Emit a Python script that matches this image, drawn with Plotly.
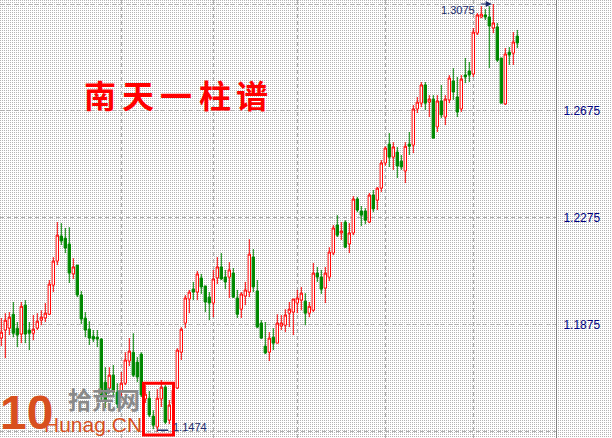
import base64
import plotly.graph_objects as go

# ---------------- data ----------------
opens = [1.1825, 1.1855, 1.1862, 1.1914, 1.1862, 1.1840, 1.1948, 1.1855, 1.1843, 1.1862,
         1.1892, 1.1900, 1.1914, 1.2023, 1.2113, 1.2207, 1.2199, 1.2177, 1.2065, 1.2098,
         1.1986, 1.1900, 1.1858, 1.1832, 1.1828, 1.1821, 1.1660, 1.1638, 1.1686, 1.1623,
         1.1623, 1.1656, 1.1739, 1.1772, 1.1735, 1.1765, 1.1597, 1.1600, 1.1533, 1.1492,
         1.1597, 1.1641, 1.1518, 1.1578, 1.1638, 1.1772, 1.1881, 1.1971, 1.2008, 1.1997,
         1.2050, 1.2020, 1.1978, 1.1956, 1.2050, 1.2091, 1.2053, 1.2053, 1.2068, 1.1975,
         1.1933, 1.1982, 1.1997, 1.2128, 1.2001, 1.1881, 1.1795, 1.1772, 1.1828, 1.1806,
         1.1870, 1.1873, 1.1918, 1.1922, 1.1956, 1.1967, 1.1963, 1.1918, 1.1929, 1.2068,
         1.2053, 1.2012, 1.2053, 1.2143, 1.2248, 1.2218, 1.2259, 1.2177, 1.2218, 1.2345,
         1.2300, 1.2300, 1.2259, 1.2360, 1.2341, 1.2386, 1.2480, 1.2551, 1.2502, 1.2521,
         1.2487, 1.2450, 1.2551, 1.2547, 1.2682, 1.2704, 1.2772, 1.2708, 1.2719, 1.2615,
         1.2712, 1.2652, 1.2716, 1.2787, 1.2727, 1.2682, 1.2809, 1.2824, 1.2813, 1.2966,
         1.3026, 1.3034, 1.3026, 1.2985, 1.2989, 1.2873, 1.2701, 1.2895, 1.2891, 1.2955]
highs = [1.1900, 1.1918, 1.1922, 1.1960, 1.1885, 1.1960, 1.1967, 1.1885, 1.1911, 1.1918,
         1.1929, 1.1956, 1.2042, 1.2128, 1.2259, 1.2255, 1.2237, 1.2240, 1.2124, 1.2098,
         1.2001, 1.1922, 1.1888, 1.1855, 1.1855, 1.1825, 1.1716, 1.1716, 1.1724, 1.1656,
         1.1698, 1.1772, 1.1825, 1.1843, 1.1754, 1.1772, 1.1649, 1.1627, 1.1555, 1.1634,
         1.1668, 1.1649, 1.1593, 1.1649, 1.1787, 1.1866, 1.1986, 1.2005, 1.2035, 1.2076,
         1.2065, 1.2020, 1.1997, 1.2080, 1.2128, 1.2143, 1.2080, 1.2109, 1.2087, 1.2005,
         1.1997, 1.2035, 1.2195, 1.2158, 1.2042, 1.1892, 1.1885, 1.1847, 1.1862, 1.1914,
         1.1911, 1.1933, 1.1960, 1.1971, 1.2005, 1.2016, 1.1993, 1.1960, 1.2106, 1.2091,
         1.2080, 1.2091, 1.2165, 1.2248, 1.2285, 1.2259, 1.2266, 1.2255, 1.2356, 1.2353,
         1.2319, 1.2311, 1.2368, 1.2379, 1.2390, 1.2491, 1.2543, 1.2592, 1.2558, 1.2540,
         1.2510, 1.2558, 1.2596, 1.2697, 1.2727, 1.2783, 1.2783, 1.2734, 1.2734, 1.2734,
         1.2772, 1.2734, 1.2809, 1.2835, 1.2802, 1.2809, 1.2873, 1.2858, 1.2985, 1.3041,
         1.3067, 1.3056, 1.3067, 1.3075, 1.3004, 1.2873, 1.2910, 1.2914, 1.2970, 1.2978]
lows = [1.1795, 1.1750, 1.1836, 1.1828, 1.1791, 1.1806, 1.1806, 1.1780, 1.1817, 1.1855,
        1.1873, 1.1885, 1.1911, 1.1997, 1.2098, 1.2173, 1.2143, 1.2031, 1.2046, 1.1978,
        1.1877, 1.1828, 1.1799, 1.1810, 1.1791, 1.1593, 1.1563, 1.1619, 1.1604, 1.1563,
        1.1600, 1.1649, 1.1720, 1.1679, 1.1660, 1.1604, 1.1582, 1.1529, 1.1484, 1.1474,
        1.1567, 1.1503, 1.1503, 1.1563, 1.1634, 1.1743, 1.1862, 1.1918, 1.1967, 1.1967,
        1.1990, 1.1922, 1.1892, 1.1903, 1.2027, 1.2042, 1.2008, 1.1975, 1.1975, 1.1900,
        1.1900, 1.1948, 1.1978, 1.1997, 1.1862, 1.1821, 1.1765, 1.1739, 1.1780, 1.1806,
        1.1855, 1.1847, 1.1866, 1.1836, 1.1918, 1.1929, 1.1873, 1.1903, 1.1922, 1.2035,
        1.1990, 1.1956, 1.2038, 1.2135, 1.2203, 1.2192, 1.2162, 1.2143, 1.2210, 1.2296,
        1.2244, 1.2251, 1.2255, 1.2296, 1.2304, 1.2371, 1.2469, 1.2465, 1.2454, 1.2424,
        1.2454, 1.2405, 1.2510, 1.2517, 1.2667, 1.2689, 1.2678, 1.2652, 1.2573, 1.2596,
        1.2648, 1.2622, 1.2704, 1.2716, 1.2652, 1.2671, 1.2779, 1.2783, 1.2802, 1.2959,
        1.3022, 1.3015, 1.2835, 1.2966, 1.2858, 1.2704, 1.2697, 1.2847, 1.2847, 1.2910]
closes = [1.1847, 1.1892, 1.1903, 1.1843, 1.1836, 1.1944, 1.1840, 1.1843, 1.1858, 1.1888,
          1.1903, 1.1918, 1.2027, 1.2113, 1.2210, 1.2188, 1.2162, 1.2068, 1.2091, 1.1986,
          1.1896, 1.1855, 1.1825, 1.1821, 1.1821, 1.1612, 1.1593, 1.1686, 1.1623, 1.1578,
          1.1656, 1.1743, 1.1776, 1.1686, 1.1679, 1.1612, 1.1615, 1.1537, 1.1499, 1.1600,
          1.1641, 1.1510, 1.1574, 1.1630, 1.1780, 1.1858, 1.1975, 1.1997, 1.1997, 1.2065,
          1.2016, 1.1960, 1.1956, 1.2046, 1.2091, 1.2046, 1.2035, 1.2080, 1.1978, 1.1914,
          1.1990, 1.2005, 1.2139, 1.2016, 1.1866, 1.1825, 1.1769, 1.1825, 1.1806, 1.1881,
          1.1881, 1.1911, 1.1933, 1.1971, 1.1975, 1.1993, 1.1918, 1.1944, 1.2068, 1.2053,
          1.2008, 1.2068, 1.2147, 1.2237, 1.2210, 1.2225, 1.2165, 1.2218, 1.2345, 1.2304,
          1.2285, 1.2266, 1.2360, 1.2308, 1.2386, 1.2480, 1.2536, 1.2502, 1.2540, 1.2469,
          1.2465, 1.2543, 1.2543, 1.2682, 1.2708, 1.2772, 1.2704, 1.2719, 1.2573, 1.2712,
          1.2660, 1.2719, 1.2798, 1.2746, 1.2671, 1.2794, 1.2802, 1.2809, 1.2970, 1.3034,
          1.3037, 1.3026, 1.2993, 1.3004, 1.2865, 1.2704, 1.2888, 1.2884, 1.2933, 1.2929]
bar_index = list(range(len(opens)))

price_ticks = [1.1474, 1.1875, 1.2275, 1.2675, 1.3075]
price_labels = ["1.1474", "1.1875", "1.2275", "1.2675", "1.3075"]
month_marks = [30, 53, 74, 96, 118]          # bars where the vertical grid lines fall
title_chars = ["南", "天", "一", "柱", "谱"]
high_label, low_label = "1.3075", "1.1474"
high_bar, low_bar = 123, 39
boxed_bars = (35.55, 43.05)
boxed_prices = (1.1462, 1.1656)

W, H = 612, 438
PLOT_W = 556
Y_RANGE = [1.1451, 1.3090]
X_RANGE = [-0.325, 138.675]

fig = go.Figure()
fig.add_trace(go.Candlestick(
    x=bar_index, open=opens, high=highs, low=lows, close=closes,
    increasing=dict(line=dict(color="#ff0000", width=1), fillcolor="#ffffff"),
    decreasing=dict(line=dict(color="#008800", width=1), fillcolor="#008800"),
    whiskerwidth=0, showlegend=False, hoverinfo="skip",
))

# dotted background texture
svg = ('<svg xmlns="http://www.w3.org/2000/svg" width="%d" height="%d" shape-rendering="crispEdges">'
       '<defs><pattern id="p" width="2" height="2" patternUnits="userSpaceOnUse">'
       '<rect x="0" y="0" width="1" height="1" fill="#b4b4b4"/></pattern></defs>'
       '<rect width="%d" height="%d" fill="url(#p)"/></svg>') % (W, H, W, H)
src = "data:image/svg+xml;base64," + base64.b64encode(svg.encode()).decode()

def px(xp):
    return xp / PLOT_W

def py(yp):
    return 1 - yp / H

annotations = []
centers = [100, 138, 176, 215, 252]
for ch, cx in zip(title_chars, centers):
    annotations.append(dict(xref="paper", yref="paper", x=px(cx), y=py(94), text="<b>%s</b>" % ch,
                            showarrow=False, xanchor="center", yanchor="middle",
                            font=dict(family="Noto Sans CJK SC", size=32, color="#ff0000")))
# high label + arrow
annotations.append(dict(xref="x", yref="y", x=high_bar - 4.1, y=highs[high_bar] - 0.0022, text=high_label,
                        showarrow=False, xanchor="right", yanchor="middle",
                        font=dict(family="Liberation Sans", size=11, color="#1a2a6a")))
annotations.append(dict(xref="x", yref="y", x=high_bar - 0.4, y=highs[high_bar], ax=high_bar - 3.5, ay=highs[high_bar],
                        axref="x", ayref="y", text="", showarrow=True, arrowhead=2, arrowsize=1,
                        arrowwidth=1.2, arrowcolor="#1a2a6a"))
# low label
annotations.append(dict(xref="x", yref="y", x=low_bar + 3.4, y=lows[low_bar] + 0.0020, text=low_label,
                        showarrow=False, xanchor="left", yanchor="middle",
                        font=dict(family="Liberation Sans", size=11, color="#1a2a6a")))
# watermark
annotations.append(dict(xref="paper", yref="paper", x=px(26), y=py(412), text="<b>10</b>", showarrow=False,
                        xanchor="center", yanchor="middle",
                        font=dict(family="Liberation Sans", size=48, color="#d8501e")))
annotations.append(dict(xref="paper", yref="paper", x=px(104), y=py(398), text="<b>拾荒网</b>", showarrow=False,
                        xanchor="center", yanchor="middle",
                        font=dict(family="Noto Sans CJK SC", size=24, color="#8a8a8a")))
annotations.append(dict(xref="paper", yref="paper", x=px(93), y=py(424), text="Hunag.CN", showarrow=False,
                        xanchor="center", yanchor="middle",
                        font=dict(family="Liberation Sans", size=21, color="#d8501e")))

shapes = [
    dict(type="rect", xref="x", yref="y", x0=boxed_bars[0], x1=boxed_bars[1],
         y0=boxed_prices[0], y1=boxed_prices[1], line=dict(color="#ff0000", width=3), layer="above"),
    dict(type="line", xref="x", yref="y", x0=low_bar, x1=low_bar + 2.7, y0=lows[low_bar] + 0.0006,
         y1=lows[low_bar] + 0.0006, line=dict(color="#1a2a6a", width=1.5)),
]

fig.update_layout(
    width=W, height=H,
    margin=dict(l=0, r=W - PLOT_W, t=0, b=0, pad=0),
    paper_bgcolor="#ffffff", plot_bgcolor="rgba(0,0,0,0)",
    showlegend=False,
    boxgap=0.15,
    images=[dict(source=src, xref="paper", yref="paper", x=0, y=1, sizex=W / PLOT_W, sizey=1,
                 xanchor="left", yanchor="top", sizing="stretch", layer="below")],
    annotations=annotations,
    shapes=shapes,
    xaxis=dict(range=X_RANGE, rangeslider=dict(visible=False), showticklabels=False,
               tickmode="array", tickvals=month_marks, ticks="",
               showgrid=True, gridcolor="#b0b0b0", griddash="4px,3px", gridwidth=1,
               zeroline=False, showline=False, fixedrange=True),
    yaxis=dict(range=Y_RANGE, side="right", tickmode="array", tickvals=price_ticks, ticktext=price_labels,
               ticks="", ticklabelstandoff=4,
               tickfont=dict(family="Liberation Sans", size=12, color="#000080"),
               showgrid=True, gridcolor="#b0b0b0", griddash="4px,3px", gridwidth=1,
               zeroline=False, showline=True, linecolor="#808080", linewidth=1, fixedrange=True),
)

fig.write_html("out.html", config={"staticPlot": True},
               post_script="document.body.style.margin='0';document.body.style.overflow='hidden';")
